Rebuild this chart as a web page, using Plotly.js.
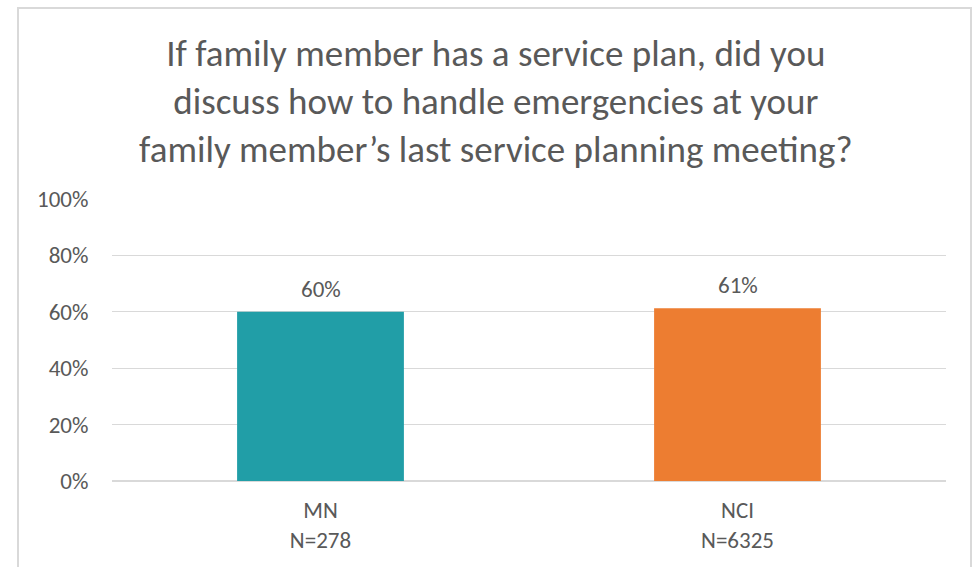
<!DOCTYPE html>
<html>
<head>
<meta charset="utf-8">
<script src="https://cdn.plot.ly/plotly-3.0.1.min.js"></script>
<style>
  html, body { margin: 0; padding: 0; background: #ffffff; }
  #chart { width: 978px; height: 567px; }
  #frame { position: absolute; left: 17px; top: 7px; width: 955px; height: 620px;
           border: 2px solid #d9d9d9; pointer-events: none; box-sizing: border-box; }
</style>
</head>
<body>
<div id="chart"></div>
<div id="frame"></div>
<script>
const titleLines = [
  "If family member has a service plan, did you",
  "discuss how to handle emergencies at your",
  "family member\u2019s last service planning meeting?"
];
const categories = ["MN", "NCI"];
const sampleSizes = ["N=278", "N=6325"];
const values = [0.60, 0.613];
const valueLabels = ["60%", "61%"];
const barColors = ["#219EA7", "#ED7D31"];
const yTickValues = [0, 0.2, 0.4, 0.6, 0.8, 1.0];
const yTickLabels = ["0%", "20%", "40%", "60%", "80%", "100%"];

const FONT = "Calibri, Carlito, Lato, sans-serif";
const GREY = "#595959";

const xLabels = categories.map((c, i) => c + "<br>" + sampleSizes[i]);

const trace = {
  type: "bar",
  x: xLabels,
  y: values,
  marker: { color: barColors },
  width: 0.4,
  hoverinfo: "skip"
};

const annotations = xLabels.map((x, i) => ({
  x: x, y: values[i], xref: "x", yref: "y",
  text: valueLabels[i], showarrow: false,
  yanchor: "bottom", yshift: 7,
  font: { family: FONT, size: 23, color: GREY }
}));

const layout = {
  width: 978, height: 567,
  paper_bgcolor: "#ffffff", plot_bgcolor: "#ffffff",
  margin: { l: 112, r: 32, t: 199, b: 86 },
  showlegend: false,
  title: {
    text: titleLines.join("<br>"),
    font: { family: FONT, size: 37, color: GREY },
    x: 0.507, xref: "container", xanchor: "center",
    y: 1 - 66 / 567, yref: "container", yanchor: "top"
  },
  xaxis: {
    type: "category",
    showgrid: false, zeroline: false, showline: false,
    ticks: "", ticklabelstandoff: 13,
    tickfont: { family: FONT, size: 23, color: GREY },
    fixedrange: true
  },
  yaxis: {
    range: [0, 1.0],
    tickvals: yTickValues, ticktext: yTickLabels,
    showgrid: true, gridcolor: "#d9d9d9", gridwidth: 1.3,
    zeroline: true, zerolinecolor: "#d9d9d9", zerolinewidth: 1.3,
    showline: false, ticks: "outside", ticklen: 18, tickcolor: "rgba(0,0,0,0)",
    tickfont: { family: FONT, size: 23, color: GREY },
    fixedrange: true
  },
  annotations: annotations
};

Plotly.newPlot("chart", [trace], layout, { displayModeBar: false, staticPlot: true });
</script>
</body>
</html>
